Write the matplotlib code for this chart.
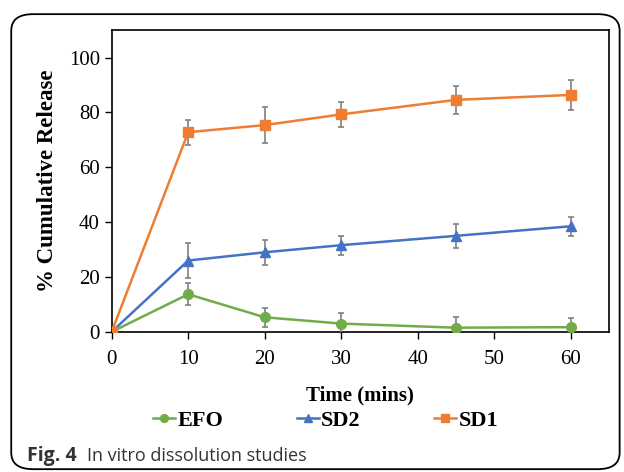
import matplotlib
matplotlib.use("Agg")
import matplotlib.pyplot as plt
from matplotlib.patches import FancyBboxPatch

# --- Data ---
time_mins = [0, 10, 20, 30, 45, 60]

efo = [0, 13.7, 5.3, 3.0, 1.5, 1.7]
efo_err = [0, 4.0, 3.5, 4.0, 4.0, 3.5]

sd2 = [0, 26.0, 29.0, 31.6, 35.0, 38.5]
sd2_err = [0, 6.5, 4.5, 3.5, 4.5, 3.5]

sd1 = [0, 72.8, 75.4, 79.3, 84.6, 86.4]
sd1_err = [0, 4.5, 6.5, 4.5, 5.2, 5.5]

x_ticks = [0, 10, 20, 30, 40, 50, 60]
y_ticks = [0, 20, 40, 60, 80, 100]

SERIES = [
    ("EFO", efo, efo_err, "#70AD47", "o"),
    ("SD2", sd2, sd2_err, "#4472C4", "^"),
    ("SD1", sd1, sd1_err, "#ED7D31", "s"),
]

plt.rcParams['font.family'] = ['Liberation Serif', 'DejaVu Serif']

fig = plt.figure(figsize=(6.24, 4.72), dpi=100)
ax = fig.add_axes([0.179, 0.297, 0.797, 0.639])

for name, vals, errs, color, marker in SERIES:
    ax.errorbar(time_mins, vals, yerr=errs, color=color, marker=marker,
                markersize=7, linewidth=1.8, ecolor="#808080",
                elinewidth=1.2, capsize=2.5, capthick=1.2, label=name,
                zorder=3)

ax.set_xlim(0, 65)
ax.set_ylim(0, 110)
ax.set_xticks(x_ticks)
ax.set_yticks(y_ticks)
ax.tick_params(axis='both', labelsize=15, direction='out', length=5, width=1)
ax.tick_params(axis='x', pad=8)
for sp in ax.spines.values():
    sp.set_linewidth(1.2)

ax.set_xlabel("Time (mins)", fontsize=15, fontweight='bold', labelpad=12)
ax.set_ylabel("% Cumulative Release", fontsize=16.5, fontweight='bold', labelpad=8)

# legend below the axis, without the error bars
handles, labels = ax.get_legend_handles_labels()
handles = [h[0] for h in handles]
ax.legend(handles, labels, loc='center', bbox_to_anchor=(0.43, -0.295),
          ncol=3, frameon=False, prop={'weight': 'bold', 'size': 16},
          handlelength=1.0, handletextpad=0.1, columnspacing=3.3,
          markerscale=0.8)

# rounded border around the whole figure
border = FancyBboxPatch((0.018, 0.006), 0.975, 0.964,
                        boxstyle="round,pad=0,rounding_size=0.035",
                        transform=fig.transFigure, fill=False,
                        edgecolor='black', linewidth=1.3)
fig.patches.append(border)

# caption
fig.text(0.043, 0.024, "Fig. 4", fontsize=14, fontweight='bold',
         family='Open Sans', color='#333333')
fig.text(0.139, 0.024, "In vitro dissolution studies", fontsize=13,
         family='Open Sans', color='#333333')

fig.savefig("out.png", dpi=100)
